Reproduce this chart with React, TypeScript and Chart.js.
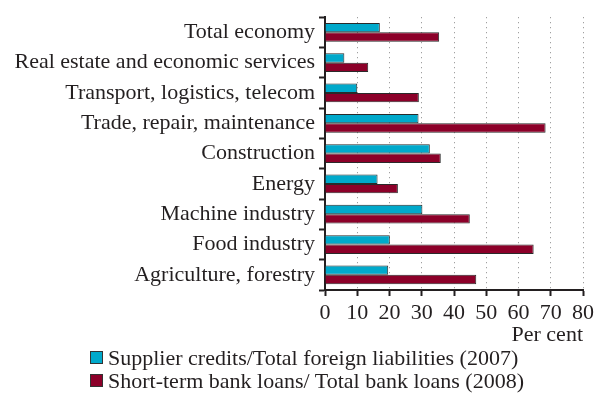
import React, { useEffect, useRef } from "react";
import { Chart, registerables } from "chart.js";

Chart.register(...registerables);

const categories = [
  "Total economy",
  "Real estate and economic services",
  "Transport, logistics, telecom",
  "Trade, repair, maintenance",
  "Construction",
  "Energy",
  "Machine industry",
  "Food industry",
  "Agriculture, forestry",
];
const supplierCredits = [17, 6, 10, 29, 32.5, 16.3, 30.2, 20.1, 19.6];
const shortTermLoans = [35.4, 13.4, 29.1, 68.4, 35.9, 22.6, 44.9, 64.7, 46.9];
const seriesNames = [
  "Supplier credits/Total foreign liabilities (2007)",
  "Short-term bank loans/ Total bank loans (2008)",
];
const xTitle = "Per cent";

const TEAL = "#00a9cb";
const RED = "#8c0029";
const INK = "#231f20";
const FONT = "'Liberation Serif', 'Times New Roman', serif";

export default function App() {
  const ref = useRef<HTMLCanvasElement | null>(null);

  useEffect(() => {
    if (!ref.current) return;
    const chart = new Chart(ref.current, {
      type: "bar",
      data: {
        labels: categories,
        datasets: [
          {
            label: seriesNames[0],
            data: supplierCredits,
            backgroundColor: TEAL,
            borderColor: "#2a2a2a",
            borderWidth: 1,
            categoryPercentage: 0.62,
            barPercentage: 1,
          },
          {
            label: seriesNames[1],
            data: shortTermLoans,
            backgroundColor: RED,
            borderColor: "#2a2a2a",
            borderWidth: 1,
            categoryPercentage: 0.62,
            barPercentage: 1,
          },
        ],
      },
      options: {
        indexAxis: "y",
        animation: false,
        responsive: false,
        maintainAspectRatio: false,
        devicePixelRatio: 1,
        layout: { padding: { top: 16, right: 13, left: 0, bottom: 51 } },
        plugins: {
          legend: { display: false },
          tooltip: { enabled: false },
        },
        scales: {
          x: {
            min: 0,
            max: 80,
            ticks: {
              stepSize: 10,
              color: INK,
              font: { family: FONT, size: 22 },
              padding: 4,
            },
            grid: {
              color: "#8a8a8a",
              lineWidth: 1,
              tickColor: INK,
              tickWidth: 2,
              tickLength: 6,
            },
            border: { display: true, color: INK, width: 2, dash: [1, 4] },
            title: {
              display: true,
              text: xTitle,
              align: "end",
              color: INK,
              font: { family: FONT, size: 22 },
              padding: { top: 0, bottom: 2 },
            },
            afterFit: (s: any) => {
              s.height = 60;
            },
          },
          y: {
            ticks: {
              color: INK,
              font: { family: FONT, size: 22 },
              padding: 4,
              autoSkip: false,
            },
            grid: {
              drawOnChartArea: false,
              tickColor: INK,
              tickWidth: 2,
              tickLength: 6,
              offset: true,
            },
            border: { display: true, color: INK, width: 2 },
            afterFit: (s: any) => {
              s.width = 325;
            },
          },
        },
      },
    });
    return () => chart.destroy();
  }, []);

  const legendRow = (color: string, text: string) => (
    <div style={{ display: "flex", alignItems: "center", height: 23 }}>
      <span
        style={{
          display: "inline-block",
          width: 11,
          height: 11,
          background: color,
          border: "1px solid #333",
          marginRight: 5,
        }}
      />
      <span>{text}</span>
    </div>
  );

  return (
    <div
      style={{
        position: "fixed",
        left: 0,
        top: 0,
        width: 598,
        height: 401,
        background: "#fff",
      }}
    >
      <canvas ref={ref} width={598} height={401} style={{ display: "block" }} />
      <div
        style={{
          position: "absolute",
          left: 90,
          top: 346,
          fontFamily: FONT,
          fontSize: 22,
          color: INK,
          lineHeight: "23px",
          whiteSpace: "nowrap",
        }}
      >
        {legendRow(TEAL, seriesNames[0])}
        {legendRow(RED, seriesNames[1])}
      </div>
    </div>
  );
}
